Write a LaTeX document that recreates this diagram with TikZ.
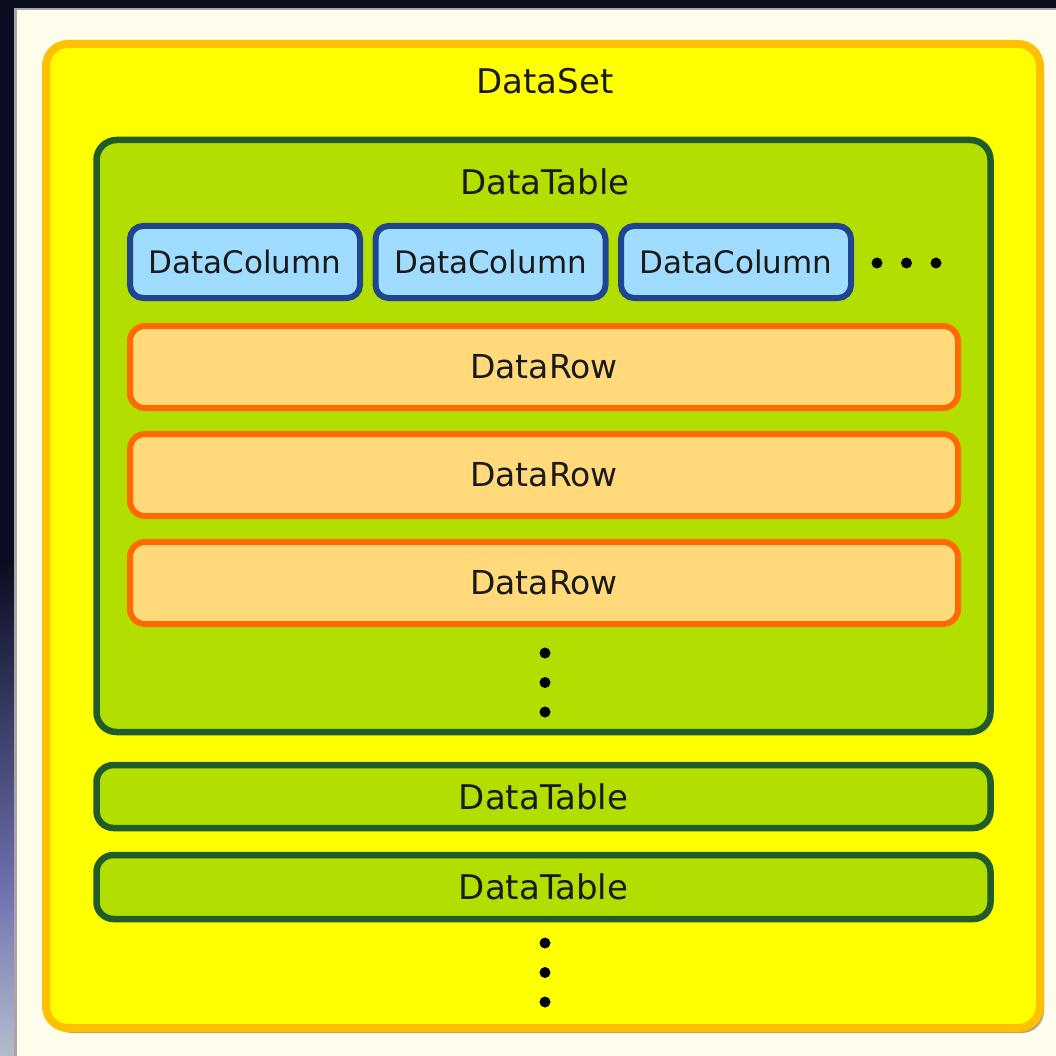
\documentclass[tikz,border=0pt]{standalone}
\usepackage{fontspec}
\setmainfont{DejaVu Sans}
\usetikzlibrary{shadows}
\usetikzlibrary{positioning,backgrounds}

\definecolor{cream}{HTML}{FFFDEB}
\definecolor{frame}{HTML}{0A0C20}
\definecolor{framemid}{HTML}{6E6EAE}
\definecolor{framelow}{HTML}{B4BCCC}
\definecolor{setfill}{HTML}{FFFF00}
\definecolor{setline}{HTML}{FFC000}
\definecolor{setshadow}{HTML}{B49A70}
\definecolor{tablefill}{HTML}{B2DF00}
\definecolor{tableline}{HTML}{1F5C2A}
\definecolor{colfill}{HTML}{A0DCFF}
\definecolor{colline}{HTML}{1F4590}
\definecolor{rowfill}{HTML}{FFD97A}
\definecolor{rowline}{HTML}{FF6A00}
\definecolor{txt}{HTML}{1A1A1A}

\tikzset{
	setbox/.style={draw=setline, line width=8pt, fill=setfill, rounded corners=22pt,
		drop shadow={shadow xshift=4pt, shadow yshift=-5pt, fill=setshadow, opacity=.9}},
	tablebox/.style={draw=tableline, line width=6.5pt, fill=tablefill, rounded corners=20pt},
	colbox/.style={draw=colline, line width=6pt, fill=colfill, rounded corners=13pt,
		minimum width=230pt, minimum height=72pt, font=\fontsize{31}{36}\selectfont, text=txt},
	rowbox/.style={draw=rowline, line width=6pt, fill=rowfill, rounded corners=15pt,
		minimum width=828pt, minimum height=82pt, font=\fontsize{33}{40}\selectfont, text=txt},
	label/.style={font=\fontsize{34}{40}\selectfont, text=txt},
	dot/.style={circle, fill=black, inner sep=0pt, minimum size=11pt}
}

\begin{document}
\begin{tikzpicture}[x=1pt,y=-1pt]

\pgfmathsetmacro{\colgap}{245.5}
\pgfmathsetmacro{\rowgap}{108}
\pgfmathsetmacro{\dotgap}{29.5}

\useasboundingbox (0,0) rectangle (1056,1056);

% BACKGROUND
\fill[cream] (0,0) rectangle (1056,1056);
\fill[frame] (0,0) rectangle (1056,8);
\fill[frame] (0,0) rectangle (14,560);
\shade[top color=frame, bottom color=framemid] (0,560) rectangle (14,885);
\shade[top color=framemid, bottom color=framelow] (0,884) rectangle (14,1056);
\fill[gray!70] (14,8) rectangle (17,1056);
\fill[gray!70] (14,8) rectangle (1056,10.5);

% NODES

\node(dataset)[setbox, minimum width=994pt, minimum height=984pt] at (543,536) {};
\node(setlabel)[label] at (545,81) {DataSet};

\node(table1)[tablebox, minimum width=894pt, minimum height=592pt] at (543.5,436) {};
\node(table1label)[label] at (545,182) {DataTable};

\foreach \i in {0,1,2}
	\node(col\i)[colbox] at (245+\i*\colgap,262) {DataColumn};

\foreach \i in {0,1,2}
	\node(row\i)[rowbox] at (544,367+\i*\rowgap) {DataRow};

\node(table2)[tablebox, rounded corners=17pt, minimum width=894pt, minimum height=63pt,
			label, inner sep=0pt] at (543.5,796.5) {DataTable};
\node(table3)[tablebox, rounded corners=17pt, minimum width=894pt, minimum height=64pt,
			label, inner sep=0pt] at (543.5,887) {DataTable};

% dots
\foreach \i in {0,1,2} {
	\node(hdot\i)[dot] at (877+\i*\dotgap,263) {};
	\node(vdot\i)[dot] at (545,653+\i*\dotgap) {};
	\node(bdot\i)[dot] at (545,943+\i*\dotgap) {};
}

\end{tikzpicture}
\end{document}
